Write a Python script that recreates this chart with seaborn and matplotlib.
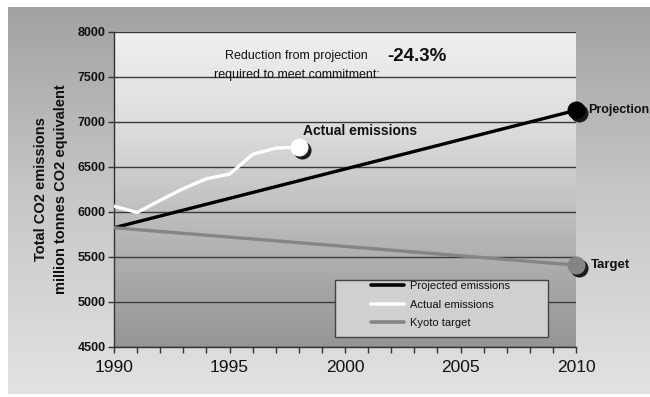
import numpy as np
import pandas as pd
import matplotlib
matplotlib.use("Agg")
import matplotlib.pyplot as plt
import matplotlib.transforms as mtransforms
from matplotlib.colors import LinearSegmentedColormap
from matplotlib.patches import Rectangle
import seaborn as sns

# Emissions data (million tonnes CO2 equivalent)
years_actual = [1990, 1991, 1992, 1993, 1994, 1995, 1996, 1997, 1998]
actual_emissions = [6065, 5995, 6130, 6260, 6370, 6420, 6640, 6710, 6720]
years_trend = [1990, 2010]
projected_emissions = [5825, 7130]
kyoto_target = [5825, 5410]
reduction_text = "-24.3%"

series_labels = ["Projected emissions", "Actual emissions", "Kyoto target"]
series_colors = ["#000000", "#ffffff", "#858585"]

sns.set_theme(style="ticks")
plt.rcParams["font.family"] = ["Liberation Sans", "DejaVu Sans"]

W, H = 650, 397
fig = plt.figure(figsize=(W / 100, H / 100), dpi=100)
fig.patch.set_facecolor("white")

# outer grey panel with vertical gradient
bg = fig.add_axes([8 / W, 3 / H, 1 - 8 / W, (390 - 3) / H], zorder=-10)
grad = np.linspace(0, 1, 256).reshape(-1, 1)
outer_cmap = LinearSegmentedColormap.from_list("outer", ["#a2a2a2", "#c8c8c8", "#e2e2e2"])
bg.imshow(grad, aspect="auto", cmap=outer_cmap, extent=[0, 1, 0, 1], origin="upper")
bg.axis("off")

# plot area
x0, x1, y0, y1 = 114, 576, 32, 347
ax = fig.add_axes([x0 / W, 1 - y1 / H, (x1 - x0) / W, (y1 - y0) / H])
ax.set_facecolor("none")
inner_cmap = LinearSegmentedColormap.from_list("inner", ["#f0f0f0", "#dadada", "#b4b4b4", "#959595"])
ax.imshow(grad, aspect="auto", cmap=inner_cmap, extent=[1990, 2010, 4500, 8000],
          origin="upper", zorder=0)

df_proj = pd.DataFrame({"year": years_trend, "value": projected_emissions})
df_act = pd.DataFrame({"year": years_actual, "value": actual_emissions})
df_kyoto = pd.DataFrame({"year": years_trend, "value": kyoto_target})

for df, lab, col in zip([df_proj, df_act, df_kyoto], series_labels, series_colors):
    sns.lineplot(data=df, x="year", y="value", ax=ax, color=col, lw=2.4,
                 label=lab, zorder=4, legend=False)

# end markers with a drop shadow
shadow = mtransforms.ScaledTranslation(2 / 72, -2 / 72, fig.dpi_scale_trans)
end_points = [
    (years_trend[-1], projected_emissions[-1], "#000000"),
    (years_actual[-1], actual_emissions[-1], "#ffffff"),
    (years_trend[-1], kyoto_target[-1], "#858585"),
]
for xv, yv, col in end_points:
    ax.plot([xv], [yv], "o", ms=13, color="#1a1a1a", mec="none",
            transform=ax.transData + shadow, zorder=5, clip_on=False)
    ax.plot([xv], [yv], "o", ms=13, color=col, mec="none", zorder=6, clip_on=False)

ax.annotate("Actual emissions", (years_actual[-1], actual_emissions[-1]),
            xytext=(3, 12), textcoords="offset points", ha="left", va="center",
            fontsize=10, fontweight="bold", color="#111111", zorder=7)
ax.annotate("Projection", (years_trend[-1], projected_emissions[-1]),
            xytext=(9, 0), textcoords="offset points", ha="left", va="center",
            fontsize=9, fontweight="bold", color="#111111", annotation_clip=False)
ax.annotate("Target", (years_trend[-1], kyoto_target[-1]),
            xytext=(10.5, 0), textcoords="offset points", ha="left", va="center",
            fontsize=9.5, fontweight="bold", color="#111111", annotation_clip=False)

ax.text(0.394, 0.924, "Reduction from projection", transform=ax.transAxes,
        ha="center", va="center", fontsize=9, color="#111111")
ax.text(0.397, 0.862, "required to meet commitment:", transform=ax.transAxes,
        ha="center", va="center", fontsize=9, color="#111111")
ax.text(0.591, 0.921, reduction_text, transform=ax.transAxes,
        ha="left", va="center", fontsize=13.5, fontweight="bold", color="#111111")

# axes and grid
ax.set_xlim(1990, 2010)
ax.set_ylim(4500, 8000)
ax.set_xticks(range(1990, 2011, 5))
ax.set_xticks(range(1990, 2011, 1), minor=True)
ax.set_yticks(range(4500, 8001, 500))
ax.yaxis.grid(True, color="#3a3a3a", lw=1.0, zorder=1)
ax.set_axisbelow(False)
for gl in ax.get_ygridlines():
    gl.set_zorder(1)
ax.tick_params(axis="x", which="both", length=4, width=1, color="#333333",
               labelsize=12.5, pad=5, labelcolor="#111111")
ax.tick_params(axis="y", length=4, width=1, color="#333333", labelsize=9,
               labelcolor="#111111", pad=2)
for lab in ax.get_yticklabels():
    lab.set_fontweight("bold")
for side in ["top", "right"]:
    ax.spines[side].set_visible(False)
for side in ["left", "bottom"]:
    ax.spines[side].set_color("#333333")
    ax.spines[side].set_linewidth(1)
ax.set_xlabel("")
ax.set_ylabel("Total CO2 emissions\nmillion tonnes CO2 equivalent", fontsize=10.5,
              fontweight="bold", color="#111111", labelpad=7, linespacing=1.5)

# legend box
lx0, lx1, ly0, ly1 = 335, 548, 280, 337
box = Rectangle(((lx0 - x0) / (x1 - x0), (y1 - ly1) / (y1 - y0)),
                (lx1 - lx0) / (x1 - x0), (ly1 - ly0) / (y1 - y0),
                transform=ax.transAxes, facecolor="#d0d0d0", edgecolor="#444444",
                lw=1, zorder=8)
ax.add_patch(box)
handles = [plt.Line2D([], [], color=c, lw=2.6) for c in series_colors]
leg = ax.legend(handles, series_labels, loc="upper left",
                bbox_to_anchor=((371 - x0) / (x1 - x0), (y1 - 281) / (y1 - y0)),
                frameon=False, fontsize=8, handlelength=3.0, handletextpad=0.5,
                labelspacing=0.78, borderpad=0, borderaxespad=0)
leg.set_zorder(9)
for t in leg.get_texts():
    t.set_color("#111111")

fig.savefig("out.png", dpi=100, facecolor=fig.get_facecolor())
